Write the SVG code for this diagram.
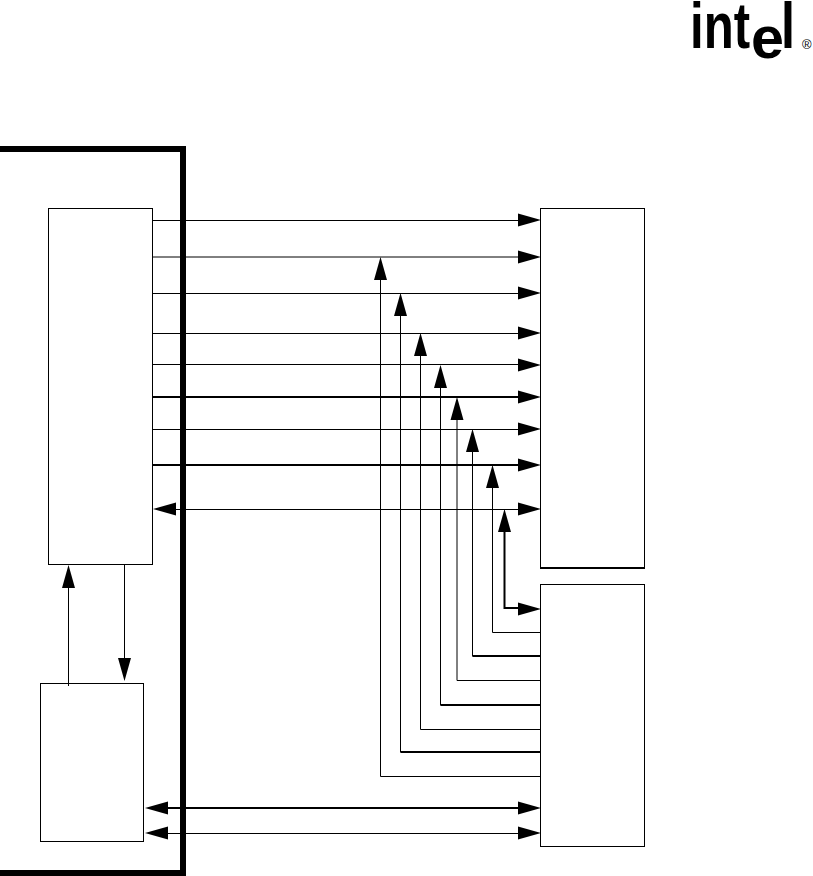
<svg xmlns="http://www.w3.org/2000/svg" width="813" height="876" viewBox="0 0 813 876">
<style>
.box{fill:#fff;stroke:#000;stroke-width:1}
.l{fill:none;stroke:#000;stroke-width:1}
.t{fill:none;stroke:#000;stroke-width:2}
.logo{font-family:"Liberation Sans",Arial,sans-serif;font-weight:bold;fill:#000}
</style>
<defs>
<polygon id="r" points="0,0 -23,-6.5 -23,6.5" fill="#000"/>
<polygon id="le" points="0,0 23,-6.5 23,6.5" fill="#000"/>
<polygon id="u" points="0,0 -6.5,23 6.5,23" fill="#000"/>
<polygon id="d" points="0,0 -6.5,-23 6.5,-23" fill="#000"/>
</defs>
<g id="logo">
<text class="logo" x="690" y="48" font-size="64" textLength="60" lengthAdjust="spacingAndGlyphs">int</text>
<text class="logo" x="751" y="58" font-size="60" textLength="33" lengthAdjust="spacingAndGlyphs">e</text>
<text class="logo" x="781" y="48" font-size="64" textLength="14" lengthAdjust="spacingAndGlyphs">l</text>
<text x="802" y="49" font-size="13" font-family="'Liberation Sans',Arial,sans-serif" fill="#000">®</text>
</g>
<g id="frame"><path d="M0 149H183V873H0" fill="none" stroke="#000" stroke-width="6"/></g>
<g id="node-left-top"><rect class="box" x="48.5" y="208.5" width="104" height="356"/></g>
<g id="node-left-bottom"><rect class="box" x="40.5" y="683.5" width="103" height="158"/></g>
<g id="node-right-top"><rect class="box" x="540.5" y="208.5" width="104" height="359.5"/><path d="M540 568H645" stroke="#000" stroke-width="2"/></g>
<g id="node-right-bottom"><rect class="box" x="540.5" y="584.5" width="104" height="262"/></g>
<g id="connectors">
<path class="l" d="M153 220.500H520M153 257H520M153 293.500H520M153 333.500H520M153 364.500H520M153 429.500H520M170 509.500H520"/>
<path class="t" d="M153 397H520M153 465H520"/>
<path class="l" d="M380.500 278V776.500H540M400.500 314V752H540M420.500 354V729.500H540M440.500 386V705H540M457 418V680.500H540M472.500 450V656H540M492.500 486V632.500H540"/>
<path class="t" d="M400.500 752H540M440.500 705H540M472.500 656H540"/>
<path class="t" d="M504.500 530V608H520" stroke-width="1.500"/>
<path class="l" d="M68.500 586V686M124.500 565V660"/>
<path class="t" d="M165 808H520"/>
<path class="l" d="M165 833.500H520"/>
<use href="#r" x="541" y="220"/><use href="#r" x="541" y="257"/><use href="#r" x="541" y="293"/><use href="#r" x="541" y="333"/><use href="#r" x="541" y="365"/><use href="#r" x="541" y="397"/><use href="#r" x="541" y="429"/><use href="#r" x="541" y="465"/><use href="#r" x="541" y="509"/><use href="#r" x="541" y="609"/><use href="#r" x="541" y="808"/><use href="#r" x="541" y="833"/>
<use href="#le" x="153" y="509"/><use href="#le" x="145" y="808"/><use href="#le" x="145" y="833"/>
<use href="#u" x="380.500" y="257"/><use href="#u" x="400.500" y="293"/><use href="#u" x="420.500" y="333"/><use href="#u" x="440.500" y="365"/><use href="#u" x="457" y="397"/><use href="#u" x="472.500" y="429"/><use href="#u" x="492.500" y="465"/><use href="#u" x="504.500" y="509"/>
<use href="#u" x="68.500" y="565"/><use href="#d" x="124.500" y="681"/>
</g>
</svg>
